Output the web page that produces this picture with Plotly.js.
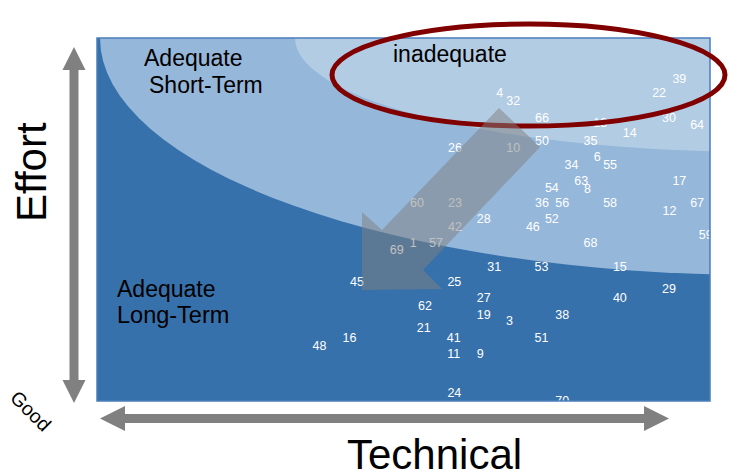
<!DOCTYPE html>
<html>
<head>
<meta charset="utf-8">
<script src="https://cdn.plot.ly/plotly-3.0.1.min.js"></script>
<style>html,body{margin:0;padding:0;background:#fff}#chart{width:729px;height:471px}</style>
</head>
<body>
<div id="chart"></div>
<script>
// ---- data ----
const projectIds = ['4','32','66','13','22','39','30','64','14','50','35','26','10','6','55','34','17','63','8','54','60','23','36','56','58','12','67','28','52','42','46','59','1','57','68','69','31','53','15','29','45','25','27','40','62','19','38','3','21','16','41','51','48','11','9','24','70'];
const technical = [65.7,67.9,72.6,82.1,91.7,95.0,93.3,97.9,86.9,72.6,80.5,58.4,67.9,81.6,83.7,77.4,95.0,79.0,80.0,74.2,52.2,58.4,72.6,75.9,83.7,93.4,97.9,63.1,74.2,58.4,71.1,99.3,51.6,55.3,80.5,48.9,64.8,72.5,85.3,93.3,42.4,58.3,63.1,85.3,53.5,63.1,75.9,67.3,53.3,41.2,58.2,72.5,36.3,58.2,62.5,58.3,75.9];
const effort = [84.6,82.3,77.8,76.4,84.6,88.6,77.7,75.8,73.7,71.4,71.4,69.5,69.5,67.0,64.9,64.9,60.5,60.5,58.1,58.3,54.2,54.2,54.2,54.2,54.2,52.0,54.2,49.8,49.8,47.6,47.6,45.5,43.4,43.4,43.4,41.3,36.6,36.6,36.6,30.6,32.6,32.6,28.2,28.2,25.8,23.5,23.5,21.7,19.8,17.2,17.2,17.2,15.0,12.8,12.8,2.1,-0.3];
const regionLabels = ['Adequate', 'Short-Term', 'inadequate', 'Adequate', 'Long-Term'];
const axisLabels = ['Effort', 'Technical', 'Good'];

// ---- layout geometry helpers (figure pixels -> paper / data) ----
const W = 729, H = 471, L = 97, R = 19, T = 38, B = 70;
const PW = W - L - R, PH = H - T - B;
const px = x => (x - L) / PW;              // paper x
const py = y => (H - B - y) / PH;           // paper y
const dx = x => px(x) * 100;                // data x
const dy = y => py(y) * 100;                // data y
const pathP = pts => 'M' + pts.map(p => px(p[0]) + ',' + py(p[1])).join('L') + 'Z';

const font = '"Liberation Sans", Arial, sans-serif';

// vertical axis arrow
const vx = 74, vTop = 47, vBot = 403, hl = 23, hw = 11.5, sw = 4.5;
const vArrow = [[vx, vTop], [vx + hw, vTop + hl], [vx + sw, vTop + hl], [vx + sw, vBot - hl], [vx + hw, vBot - hl], [vx, vBot],
  [vx - hw, vBot - hl], [vx - sw, vBot - hl], [vx - sw, vTop + hl], [vx - hw, vTop + hl]];
// horizontal axis arrow
const hy = 418.5, hL = 100, hR = 669, hhl = 25, hhw = 12.5, hsw = 4.5;
const hArrow = [[hL, hy], [hL + hhl, hy - hhw], [hL + hhl, hy - hsw], [hR - hhl, hy - hsw], [hR - hhl, hy - hhw], [hR, hy],
  [hR - hhl, hy + hhw], [hR - hhl, hy + hsw], [hL + hhl, hy + hsw], [hL + hhl, hy + hhw]];
// big diagonal arrow
const dArrow = [[499,108],[540,147],[423,270],[442,289],[362,290],[362,212],[382,230]];

const shapes = [
  // mid-light region
  {type:'circle', xref:'x', yref:'y', layer:'below', x0:dx(100), x1:dx(1420), y0:dy(275), y1:dy(-199),
   fillcolor:'#95b7da', line:{width:0}},
  // lightest region
  {type:'circle', xref:'x', yref:'y', layer:'below', x0:dx(295), x1:dx(1225), y0:dy(152), y1:dy(-76),
   fillcolor:'#b2cce4', line:{width:0}},
  // plot border
  {type:'rect', xref:'paper', yref:'paper', x0:0, x1:1, y0:0, y1:1, layer:'above', line:{color:'#4a7ebb', width:1.5}},
  // red ellipse
  {type:'circle', xref:'paper', yref:'paper', layer:'above', x0:px(332), x1:px(725), y0:py(126), y1:py(24),
   line:{color:'#800000', width:5}, fillcolor:'rgba(0,0,0,0)'},
  // diagonal arrow
  {type:'path', xref:'paper', yref:'paper', layer:'above', path:pathP(dArrow), fillcolor:'rgba(128,128,128,0.5)', line:{width:0}},
  // axis arrows
  {type:'path', xref:'paper', yref:'paper', layer:'above', path:pathP(vArrow), fillcolor:'#808080', line:{width:0}},
  {type:'path', xref:'paper', yref:'paper', layer:'above', path:pathP(hArrow), fillcolor:'#808080', line:{width:0}}
];

const ann = (text, x, y, size, opts) => Object.assign({text, xref:'paper', yref:'paper', x:px(x), y:py(y),
  showarrow:false, font:{family:font, size, color:'#000'}, xanchor:'left', yanchor:'middle'}, opts || {});

const annotations = [
  ann(regionLabels[0], 142, 58, 23),
  ann(regionLabels[1], 147, 85, 23),
  ann(regionLabels[2], 449.5, 54, 23, {xanchor:'center'}),
  ann(regionLabels[3], 115, 289, 23),
  ann(regionLabels[4], 115, 315, 23.5),
  ann(axisLabels[0], 32, 172, 42, {xanchor:'center', textangle:-90}),
  ann(axisLabels[1], 434.5, 454, 42, {xanchor:'center'}),
  ann(axisLabels[2], 31, 411, 19.5, {xanchor:'center', textangle:45})
];

const trace = {
  type:'scatter', mode:'text', x:technical, y:effort, text:projectIds,
  textposition:'middle center', textfont:{family:font, size:12.5, color:'#ffffff'},
  hoverinfo:'skip', showlegend:false, cliponaxis:true
};

const axis = {range:[0,100], showgrid:false, zeroline:false, showticklabels:false, showline:false, ticks:'', fixedrange:true};

Plotly.newPlot('chart', [trace], {
  width:W, height:H, margin:{l:L, r:R, t:T, b:B, pad:0},
  paper_bgcolor:'#ffffff', plot_bgcolor:'#3771ab',
  xaxis:axis, yaxis:Object.assign({}, axis),
  shapes, annotations, showlegend:false
}, {staticPlot:true, displayModeBar:false});
</script>
</body>
</html>
